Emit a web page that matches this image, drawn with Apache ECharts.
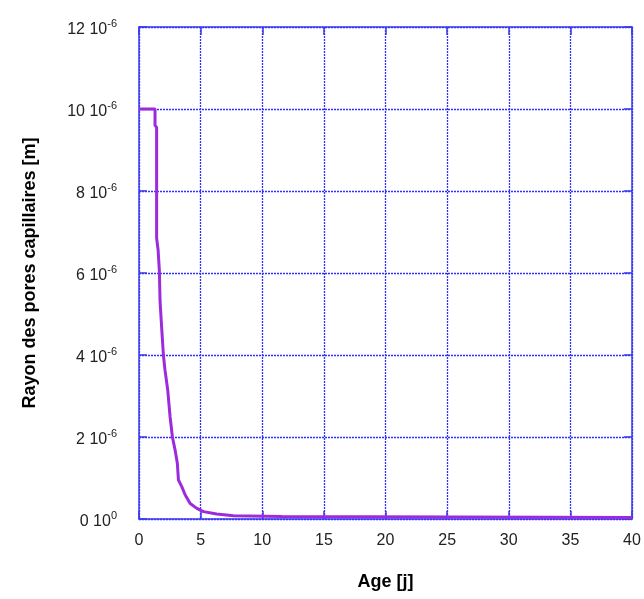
<!DOCTYPE html>
<html>
<head>
<meta charset="utf-8">
<script src="https://cdn.jsdelivr.net/npm/echarts@6/dist/echarts.min.js"></script>
<style>
  html, body { margin: 0; padding: 0; background: #fff; }
  #main { width: 644px; height: 599px; }
</style>
</head>
<body>
<div id="main"></div>
<script>
// age in days
var ages = [0, 1.3, 1.3, 1.43, 1.43, 1.55, 1.65, 1.71, 1.84, 1.98, 2.11, 2.33, 2.52, 2.71, 2.93, 3.11, 3.2, 3.47, 3.74, 4.15, 4.69, 5.23, 6.3, 7.67, 11.6, 11.6, 40];
// pore radius, in units of 1e-6 m
var radius = [10, 10, 9.6, 9.55, 6.85, 6.56, 6.07, 5.3, 4.66, 4.0, 3.63, 3.15, 2.5, 2.0, 1.68, 1.36, 0.95, 0.79, 0.59, 0.38, 0.26, 0.18, 0.12, 0.08, 0.06, 0.035, 0.035];
var xTicks = [0, 5, 10, 15, 20, 25, 30, 35, 40];
var yTickLabels = ['0', '2', '4', '6', '8', '10', '12'];

var blue = '#3a3af0';
var gridBlue = '#3030ff';
var font = 'Liberation Sans, Arial, sans-serif';

var myChart = echarts.init(document.getElementById('main'));

var pts = ages.map(function (a, i) { return [a, radius[i]]; });

var option = {
  backgroundColor: '#fff',
  animation: false,
  grid: { left: 139, right: 12, top: 27, bottom: 80 },
  xAxis: [
    {
      type: 'value', min: 0, max: 40, interval: 5,
      name: 'Age [j]', nameLocation: 'middle', nameGap: 54,
      nameTextStyle: { fontFamily: font, fontSize: 18, fontWeight: 'bold', color: '#000' },
      axisLine: { onZero: false, lineStyle: { color: blue, width: 1.5 } },
      axisTick: { inside: true, length: 8, lineStyle: { color: blue, width: 1.5 } },
      axisLabel: { fontFamily: font, fontSize: 16, color: '#222', margin: 14 },
      splitLine: { show: true, lineStyle: { color: gridBlue, type: [2, 1], width: 1.3 } }
    },
    {
      type: 'value', min: 0, max: 40, interval: 5, position: 'top',
      axisLine: { onZero: false, lineStyle: { color: blue, width: 1.5 } },
      axisTick: { inside: true, length: 8, lineStyle: { color: blue, width: 1.5 } },
      axisLabel: { show: false },
      splitLine: { show: false }
    }
  ],
  yAxis: [
    {
      type: 'value', min: 0, max: 12, interval: 2,
      name: 'Rayon des pores capillaires [m]', nameLocation: 'middle', nameGap: 100,
      nameTextStyle: { fontFamily: font, fontSize: 18, fontWeight: 'bold', color: '#000' },
      axisLine: { show: true, onZero: false, lineStyle: { color: blue, width: 1.5 } },
      axisTick: { show: true, inside: true, length: 8, lineStyle: { color: blue, width: 1.5 } },
      axisLabel: {
        margin: 22,
        formatter: function (v) {
          var k = Math.round(v / 2);
          var exp = v === 0 ? '0' : '-6';
          return '{a|' + yTickLabels[k] + ' 10}{b|' + exp + '}';
        },
        rich: {
          a: { fontFamily: font, fontSize: 16, color: '#222', padding: [6, 0, 0, 0] },
          b: { fontFamily: font, fontSize: 11, color: '#222', padding: [0, 0, 6, 0] }
        }
      },
      splitLine: { show: true, lineStyle: { color: gridBlue, type: [2, 1], width: 1.3 } }
    },
    {
      type: 'value', min: 0, max: 12, interval: 2, position: 'right',
      axisLine: { show: true, onZero: false, lineStyle: { color: blue, width: 1.5 } },
      axisTick: { show: true, inside: true, length: 8, lineStyle: { color: blue, width: 1.5 } },
      axisLabel: { show: false },
      splitLine: { show: false }
    }
  ],
  series: [
    {
      type: 'line',
      data: pts,
      showSymbol: false,
      lineStyle: { color: '#9b2bdc', width: 3 },
      itemStyle: { color: '#9b2bdc' }
    }
  ]
};
myChart.setOption(option);
</script>
</body>
</html>
